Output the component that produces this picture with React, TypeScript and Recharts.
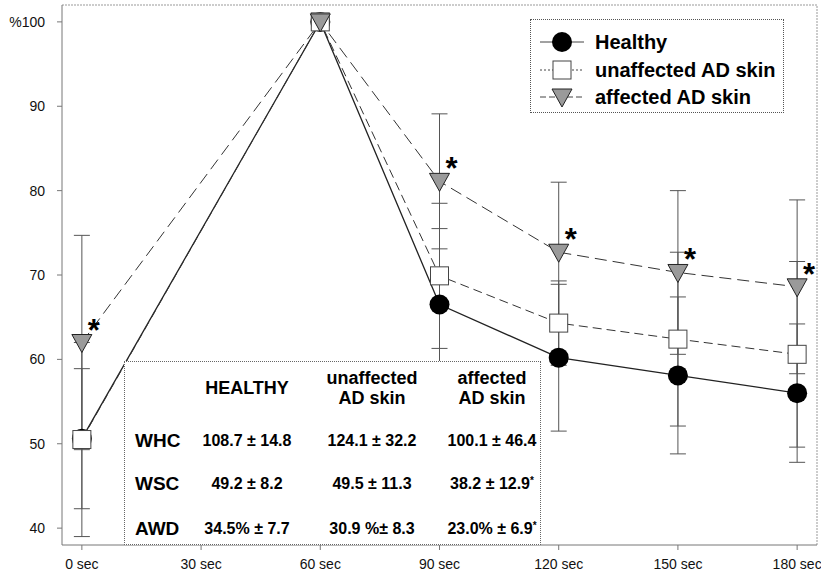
import {
  LineChart,
  Line,
  XAxis,
  YAxis,
  ErrorBar,
  ReferenceLine,
} from 'recharts';

const FONT = '"Liberation Sans", Arial, Helvetica, sans-serif';

// time points (sec)
const times = [0, 60, 90, 120, 150, 180];
const xTicks = [0, 30, 60, 90, 120, 150, 180];
const yTicks = [40, 50, 60, 70, 80, 90, 100];

const healthy = [50.6, 100, 66.5, 60.2, 58.1, 56.0];
const healthySd = [8.3, 0, 9.0, 8.7, 9.3, 8.2];
const unaffected = [50.5, 100, 69.9, 64.3, 62.4, 60.6];
const unaffectedSd = [11.5, 0, 8.6, 5.0, 10.3, 11.0];
const affected = [62.0, 100, 81.1, 72.7, 70.3, 68.6];
const affectedSd = [12.7, 0, 8.0, 8.3, 9.7, 10.3];
const affectedSig = [true, false, true, true, true, true];

// inset table
const tableCols = ['HEALTHY', 'unaffected\nAD skin', 'affected\nAD skin'];
const tableRows = ['WHC', 'WSC', 'AWD'];
const tableValues = [
  ['108.7 ± 14.8', '124.1 ± 32.2', '100.1 ± 46.4'],
  ['49.2 ± 8.2', '49.5 ± 11.3', '38.2 ± 12.9*'],
  ['34.5% ± 7.7', '30.9 %± 8.3', '23.0% ± 6.9*'],
];

const data = times.map((t, i) => ({
  t,
  h: healthy[i],
  hSd: healthySd[i],
  u: unaffected[i],
  uSd: unaffectedSd[i],
  a: affected[i],
  aSd: affectedSd[i],
  sig: affectedSig[i],
}));

const CircleDot = (props: any) => {
  const { cx, cy } = props;
  if (cx == null || cy == null) return null;
  return <circle cx={cx} cy={cy} r={10} fill="#000" />;
};

const SquareDot = (props: any) => {
  const { cx, cy } = props;
  if (cx == null || cy == null) return null;
  return <rect x={cx - 9} y={cy - 9} width={18} height={18} fill="#fff" stroke="#444" strokeWidth={1} />;
};

const TriangleDot = (props: any) => {
  const { cx, cy, payload } = props;
  if (cx == null || cy == null) return null;
  return (
    <g>
      <polygon
        points={`${cx - 10},${cy - 8} ${cx + 10},${cy - 8} ${cx},${cy + 10}`}
        fill="#9a9a9a"
        stroke="#222"
        strokeWidth={1}
      />
      {/* significance star */}
      {payload.sig && (
        <text x={cx + 12} y={cy - 2} textAnchor="middle" fontSize={31} fontWeight="bold" fontFamily={FONT} fill="#000">
          *
        </text>
      )}
    </g>
  );
};

const legendItems = [
  { label: 'Healthy', dash: undefined, marker: 'circle' },
  { label: 'unaffected AD skin', dash: '2 2', marker: 'square' },
  { label: 'affected AD skin', dash: '6 3', marker: 'triangle' },
];

function LegendBox() {
  return (
    <div
      style={{
        position: 'absolute',
        left: 530,
        top: 19,
        width: 254,
        height: 94,
        boxSizing: 'border-box',
        border: '1px dotted #555',
        background: '#fff',
        fontFamily: FONT,
        fontWeight: 'bold',
        fontSize: 20,
        color: '#000',
      }}
    >
      {legendItems.map((it, i) => {
        const cy = 22 + i * 27.5;
        return (
          <div key={it.label}>
            <svg width={60} height={26} style={{ position: 'absolute', left: 4, top: cy - 13 }}>
              <line x1={5} y1={13} x2={49} y2={13} stroke="#444" strokeWidth={1} strokeDasharray={it.dash} />
              {it.marker === 'circle' && <circle cx={27} cy={13} r={10} fill="#000" />}
              {it.marker === 'square' && <rect x={18} y={4} width={18} height={18} fill="#fff" stroke="#444" />}
              {it.marker === 'triangle' && (
                <polygon points="17,5 37,5 27,23" fill="#9a9a9a" stroke="#222" />
              )}
            </svg>
            <div style={{ position: 'absolute', left: 64, top: cy - 12, lineHeight: '24px', whiteSpace: 'nowrap' }}>
              {it.label}
            </div>
          </div>
        );
      })}
    </div>
  );
}

function InsetTable() {
  const colX = [246, 371, 491];
  const rowY = [440, 483, 528];
  const left = 124;
  const top = 361;
  return (
    <div
      style={{
        position: 'absolute',
        left,
        top,
        width: 417,
        height: 184,
        boxSizing: 'border-box',
        border: '1px dotted #666',
        background: '#fff',
        fontFamily: FONT,
        fontWeight: 'bold',
        color: '#000',
      }}
    >
      {tableCols.map((c, j) => (
        <div
          key={c}
          style={{
            position: 'absolute',
            left: colX[j] - left - 70,
            width: 140,
            top: 387 - top - (c.includes('\n') ? 20 : 10),
            textAlign: 'center',
            fontSize: 18,
            lineHeight: '20px',
            whiteSpace: 'pre',
          }}
        >
          {c}
        </div>
      ))}
      {tableRows.map((r, i) => (
        <div key={r}>
          <div style={{ position: 'absolute', left: 134 - left, top: rowY[i] - top - 11, fontSize: 19, lineHeight: '22px' }}>
            {r}
          </div>
          {tableValues[i].map((v, j) => {
            const star = v.endsWith('*');
            const txt = star ? v.slice(0, -1) : v;
            return (
              <div
                key={j}
                style={{
                  position: 'absolute',
                  left: colX[j] - left - 70,
                  width: 140,
                  top: rowY[i] - top - 10,
                  textAlign: 'center',
                  fontSize: 16,
                  lineHeight: '20px',
                  whiteSpace: 'nowrap',
                }}
              >
                {txt}
                {star && <span style={{ fontSize: 10, verticalAlign: 'top', lineHeight: '14px' }}>*</span>}
              </div>
            );
          })}
        </div>
      ))}
    </div>
  );
}

export default function App() {
  return (
    <div style={{ position: 'absolute', left: 0, top: 0, width: 821, height: 577, background: '#fff' }}>
      <LineChart
        width={821}
        height={577}
        data={data}
        margin={{ top: 5, right: 4, bottom: 2, left: 0 }}
        style={{ fontFamily: FONT }}
      >
        <XAxis
          dataKey="t"
          type="number"
          domain={[-5, 185]}
          ticks={xTicks}
          tickFormatter={(v) => `${v} sec`}
          height={30}
          tickSize={5}
          tickMargin={9}
          stroke="#777"
          tick={{ fill: '#111', fontSize: 14 }}
        />
        <YAxis
          type="number"
          domain={[38, 102]}
          ticks={yTicks}
          tickFormatter={(v) => (v === 100 ? '%100' : String(v))}
          width={62}
          tickSize={5}
          tickMargin={12}
          stroke="#777"
          tick={{ fill: '#111', fontSize: 14 }}
        />
        {/* frame top / right */}
        <ReferenceLine y={102} stroke="#999" strokeDasharray="2 1" />
        <ReferenceLine x={185} stroke="#999" strokeDasharray="2 1" />
        <Line
          dataKey="h"
          stroke="#222"
          strokeWidth={1.3}
          dot={<CircleDot />}
          activeDot={false}
          isAnimationActive={false}
        >
          <ErrorBar dataKey="hSd" width={8} stroke="#555" strokeWidth={1} direction="y" isAnimationActive={false} />
        </Line>
        <Line
          dataKey="u"
          stroke="#333"
          strokeWidth={1}
          strokeDasharray="9 5"
          dot={<SquareDot />}
          activeDot={false}
          isAnimationActive={false}
        >
          <ErrorBar dataKey="uSd" width={8} stroke="#555" strokeWidth={1} direction="y" isAnimationActive={false} />
        </Line>
        <Line
          dataKey="a"
          stroke="#333"
          strokeWidth={1}
          strokeDasharray="12 6"
          dot={<TriangleDot />}
          activeDot={false}
          isAnimationActive={false}
        >
          <ErrorBar dataKey="aSd" width={8} stroke="#555" strokeWidth={1} direction="y" isAnimationActive={false} />
        </Line>
      </LineChart>
      <InsetTable />
      <LegendBox />
    </div>
  );
}
